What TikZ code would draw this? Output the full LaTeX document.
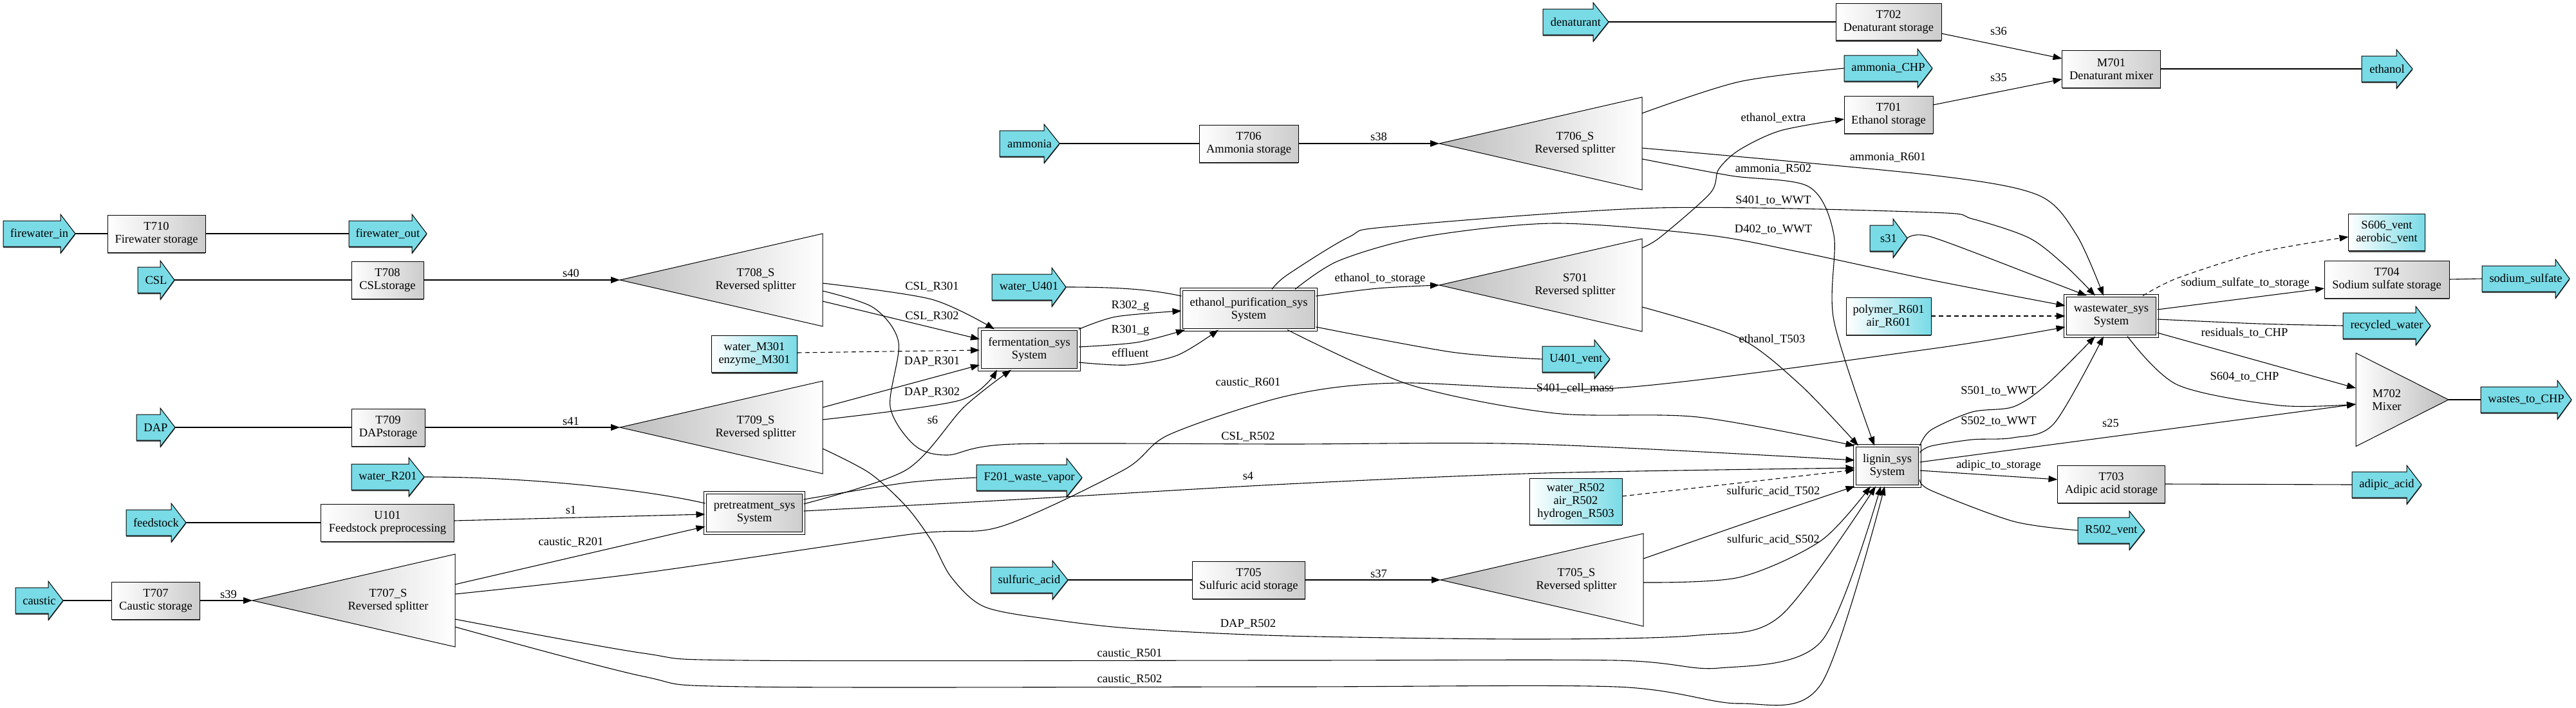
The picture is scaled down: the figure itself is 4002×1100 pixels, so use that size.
\documentclass[tikz,border=0pt]{standalone}
\usepackage{fontspec}
\setmainfont{Liberation Serif}
\usetikzlibrary{arrows.meta,shadows}
\definecolor{cyanC}{RGB}{121,219,230}
\definecolor{boxR}{RGB}{204,204,204}
\definecolor{triL}{RGB}{188,188,188}
\definecolor{shadowC}{RGB}{80,80,80}
\newcommand\streamnode[6]{%
  \fill[shadowC] (#2,#5-20+2) -- (#3,#5-20+2) -- (#3,#5-30+2) -- (#4,#5+2) -- (#3,#5+30+2) -- (#3,#5+20+2) -- (#2,#5+20+2) -- cycle;
  \filldraw[fill=cyanC, line width=1.0pt] (#2,#5-20) -- (#3,#5-20) -- (#3,#5-30) -- (#4,#5) -- (#3,#5+30) -- (#3,#5+20) -- (#2,#5+20) -- cycle;
  \node[txt, minimum width={#4-#2}, minimum height=40] (#1) at ({(#2+#4)/2},#5) {#6};}
\newcommand\splitnode[4]{%
  \node[txt, minimum width=315, minimum height=144, anchor=west] (#1) at (#2,#3) {};
  \shadedraw[left color=triL, right color=white, line width=1.0pt] (#1.west) -- (#1.north east) -- (#1.south east) -- cycle;
  \node[txt] (#1t) at (#2+211,#3) {#4};}
\begin{document}
\begin{tikzpicture}[x=1pt, y=-1pt,
  txt/.style={font=\fontsize{18.5}{20}\selectfont, inner sep=0pt, outer sep=0pt, align=center},
  boxshadow/.style={drop shadow={shadow xshift=0pt, shadow yshift=-2pt, fill=shadowC, opacity=1}},
  unitbox/.style={txt, draw, line width=1.0pt, left color=white, right color=boxR, minimum height=58, boxshadow},
  sysbox/.style={txt, draw, line width=1.0pt, double, double distance=3.4pt, left color=white, right color=boxR, minimum height=63},
  hintbox/.style={txt, draw, line width=1.0pt, left color=white, right color=cyanC, boxshadow},
  lbl/.style={txt},
  pline/.style={line width=1.1pt},
  fline/.style={line width=1.1pt, -{Triangle[length=14pt,width=10pt]}},
  dline/.style={fline, dash pattern=on 7pt off 5pt}]
\path[use as bounding box, fill=white] (0,0) rectangle (4002,1100);

% ---------- stream arrows ----------
\streamnode{fwin}{5}{94}{117}{363}{firewater\_in}
\streamnode{fwout}{542}{640}{663}{363}{firewater\_out}
\streamnode{CSL}{214}{249}{271}{435}{CSL}
\streamnode{DAP}{212}{249}{272}{664}{DAP}
\streamnode{wR201}{546}{635}{659}{741}{water\_R201}
\streamnode{feed}{196}{266}{289}{812}{feedstock}
\streamnode{caustic}{24}{75}{98}{933}{caustic}
\streamnode{ammonia}{1553}{1622}{1646}{223}{ammonia}
\streamnode{denat}{2397}{2475}{2499}{34}{denaturant}
\streamnode{amCHP}{2865}{2979}{3002}{106}{ammonia\_CHP}
\streamnode{ethanol}{3669}{3723}{3748}{107}{ethanol}
\streamnode{wU401}{1541}{1634}{1656}{446}{water\_U401}
\streamnode{F201}{1517}{1657}{1681}{742}{F201\_waste\_vapor}
\streamnode{U401v}{2396}{2477}{2501}{558}{U401\_vent}
\streamnode{sulf}{1539}{1635}{1659}{901}{sulfuric\_acid}
\streamnode{s31}{2905}{2941}{2963}{370}{s31}
\streamnode{naso}{3856}{3970}{3992}{433}{sodium\_sulfate}
\streamnode{recw}{3640}{3753}{3776}{506}{recycled\_water}
\streamnode{wCHP}{3854}{3973}{3995}{621}{wastes\_to\_CHP}
\streamnode{adip}{3654}{3739}{3762}{753}{adipic\_acid}
\streamnode{R502v}{3228}{3308}{3332}{824}{R502\_vent}

% ---------- unit boxes ----------
\node[unitbox, minimum width=152] (T710) at (243,363) {T710\\Firewater storage};
\node[unitbox, minimum width=112] (T708) at (602,435) {T708\\CSLstorage};
\node[unitbox, minimum width=114] (T709) at (603,664) {T709\\DAPstorage};
\node[unitbox, minimum width=207] (U101) at (602,812) {U101\\Feedstock preprocessing};
\node[unitbox, minimum width=137] (T707) at (242,933) {T707\\Caustic storage};
\node[unitbox, minimum width=154] (T706) at (1940,223) {T706\\Ammonia storage};
\node[unitbox, minimum width=175] (T705) at (1940,901) {T705\\Sulfuric acid storage};
\node[unitbox, minimum width=164, minimum height=57] (T702) at (2934,34) {T702\\Denaturant storage};
\node[unitbox, minimum width=138] (T701) at (2934,178) {T701\\Ethanol storage};
\node[unitbox, minimum width=153] (M701) at (3280,107) {M701\\Denaturant mixer};
\node[unitbox, minimum width=194] (T704) at (3708,434) {T704\\Sodium sulfate storage};
\node[unitbox, minimum width=167] (T703) at (3280,752) {T703\\Adipic acid storage};

% ---------- systems ----------
\node[sysbox, minimum width=153] (pretreat) at (1172,797) {pretreatment\_sys\\System};
\node[sysbox, minimum width=154] (ferm) at (1599,543) {fermentation\_sys\\System};
\node[sysbox, minimum width=209] (ethpur) at (1940,481) {ethanol\_purification\_sys\\System};
\node[sysbox, minimum width=101] (lignin) at (2932,724) {lignin\_sys\\System};
\node[sysbox, minimum width=143] (wwt) at (3280,491) {wastewater\_sys\\System};

% ---------- auxiliary feed boxes ----------
\node[hintbox, minimum width=133, minimum height=57] (wM301) at (1172,550) {water\_M301\\enzyme\_M301};
\node[hintbox, minimum width=132, minimum height=58] (polyR601) at (2934,491) {polymer\_R601\\air\_R601};
\node[hintbox, minimum width=144, minimum height=72] (wR502) at (2448,779) {water\_R502\\air\_R502\\hydrogen\_R503};
\node[hintbox, minimum width=119, minimum height=57] (S606) at (3708,361) {S606\_vent\\aerobic\_vent};

% ---------- splitters and mixer ----------
\splitnode{T708S}{963}{435}{T708\_S\\Reversed splitter}
\splitnode{T709S}{963}{664}{T709\_S\\Reversed splitter}
\splitnode{T707S}{392}{933}{T707\_S\\Reversed splitter}
\splitnode{T706S}{2236}{223}{T706\_S\\Reversed splitter}
\splitnode{S701}{2236}{443}{S701\\Reversed splitter}
\splitnode{T705S}{2238}{901}{T705\_S\\Reversed splitter}
\node[txt, minimum width=144, minimum height=145, anchor=west] (M702) at (3660,621) {};
\shadedraw[left color=white, right color=triL, line width=1.0pt] (M702.north west) -- (M702.east) -- (M702.south west) -- cycle;
\node[txt] (M702t) at (3708,621) {M702\\Mixer};

% ---------- connectors ----------
\draw[pline] (fwin.east) -- (T710.west);
\draw[pline] (T710.east) -- (fwout.west);
\draw[pline] (CSL.east) -- (T708.west);
\draw[fline] (T708.east) -- (T708S.west);
\draw[pline] (DAP.east) -- (T709.west);
\draw[fline] (T709.east) -- (T709S.west);
\draw[pline] (wR201.east) .. controls (820,741) and (1000,760) .. (pretreat.west |- 0,782);
\draw[pline] (feed.east) -- (U101.west);
\draw[fline] (U101.east |- 0,809) -- (pretreat.west |- 0,799);
\draw[pline] (caustic.east) -- (T707.west);
\draw[fline] (T707.east) -- (T707S.west);
\draw[fline] (T707S.east |- 0,908) -- (pretreat.west |- 0,818);
\draw[fline] plot[smooth] coordinates {(T707S.east |- 0,923) (1000,890) (1415,830) (1555,818) (1746,730) (1817,675) (2000,615) (2172,595) (2510,603) (3000,542) (wwt.west |- 0,508)};
\draw[fline] plot[smooth] coordinates {(T707S.east |- 0,962) (1000,1015) (1160,1026) (2000,1026) (2510,1026) (2670,1038) (2829,997) (lignin.south -| 2922,0)};
\draw[fline] plot[smooth] coordinates {(T707S.east |- 0,974) (1000,1051) (1160,1067) (2000,1067) (2510,1067) (2702,1093) (2829,1063) (lignin.south -| 2928,0)};
\draw[fline] plot[smooth] coordinates {(T708S.east |- 0,440) (1447,465) (ferm.north -| 1545,0)};
\draw[fline] plot[smooth] coordinates {(T708S.east |- 0,452) (1357,478) (1396,532) (1383,632) (1421,692) (1472,707) (1574,690) (2000,690) (2383,690) (lignin.west |- 0,715)};
\draw[fline] (T708S.east |- 0,468) -- (ferm.west |- 0,527);
\draw[dline] (wM301.east |- 0,548) -- (ferm.west |- 0,544);
\draw[fline] (T709S.east |- 0,633) -- (ferm.west |- 0,567);
\draw[fline] plot[smooth] coordinates {(T709S.east |- 0,652) (1491,622) (ferm.south -| 1549,0)};
\draw[fline] plot[smooth] coordinates {(T709S.east |- 0,697) (1351,735) (1408,787) (1447,840) (1478,897) (1530,943) (1638,963) (1766,977) (2000,988) (2383,993) (2638,987) (2766,957) (lignin.south -| 2914,0)};
\draw[pline] plot[smooth] coordinates {(pretreat.east |- 0,776) (1408,750) (F201.west)};
\draw[fline] plot[smooth] coordinates {(pretreat.east |- 0,783) (1408,730) (1498,632) (ferm.south -| 1571,0)};
\draw[fline] plot[smooth] coordinates {(pretreat.east |- 0,794) (1600,775) (2000,752) (2400,735) (lignin.west |- 0,727)};
\draw[fline] plot[smooth] coordinates {(ferm.north east) (1734,492) (ethpur.west |- 0,483)};
\draw[fline] plot[smooth] coordinates {(ferm.east |- 0,539) (1766,532) (ethpur.south -| 1841,0)};
\draw[fline] plot[smooth] coordinates {(ferm.east |- 0,563) (1753,567) (1829,552) (ethpur.south -| 1893,0)};
\draw[pline] (wU401.east) .. controls (1740,446) and (1790,450) .. (ethpur.west |- 0,460);
\draw[fline] plot[smooth] coordinates {(ethpur.east |- 0,460) (2140,448) (S701.west)};
\draw[pline] plot[smooth] coordinates {(ethpur.east |- 0,508) (2255,547) (U401v.west)};
\draw[fline] plot[smooth] coordinates {(ethpur.south -| 2000,0) (2191,598) (2415,642) (2638,648) (lignin.north west)};
\draw[fline] plot[smooth] coordinates {(ethpur.north -| 1976,0) (2000,427) (2096,368) (2160,352) (2574,323) (3000,330) (3064,340) (3153,370) (3211,415) (wwt.north -| 3255,0)};
\draw[fline] plot[smooth] coordinates {(ethpur.north -| 2012,0) (2080,405) (2211,368) (2415,347) (2651,365) (2798,392) (3000,435) (wwt.west |- 0,475)};
\draw[fline] plot[smooth] coordinates {(S701.east |- 0,385) (2580,368) (2657,300) (2670,263) (2702,233) (2766,203) (T701.west |- 0,185)};
\draw[fline] plot[smooth] coordinates {(S701.east |- 0,477) (2702,525) (2797,598) (lignin.north -| 2887,0)};
\draw[pline] (ammonia.east) -- (T706.west);
\draw[fline] (T706.east) -- (T706S.west);
\draw[pline] plot[smooth] coordinates {(T706S.east |- 0,176) (2702,127) (amCHP.west)};
\draw[fline] plot[smooth] coordinates {(T706S.east |- 0,230) (3000,272) (3166,303) (3226,365) (wwt.north -| 3268,0)};
\draw[fline] plot[smooth] coordinates {(T706S.east |- 0,247) (2689,273) (2810,290) (2849,365) (2849,498) (lignin.north -| 2912,0)};
\draw[pline] (denat.east) -- (T702.west);
\draw[fline] (T702.east |- 0,52) -- (M701.west |- 0,91);
\draw[fline] (T701.east |- 0,163) -- (M701.west |- 0,123);
\draw[pline] (M701.east) -- (ethanol.west);
\draw[fline] plot[smooth] coordinates {(s31.east) (3000,368) (3160,428) (wwt.north -| 3242,0)};
\draw[dline] (polyR601.east) -- (wwt.west |- 0,491);
\draw[dline] plot[smooth] coordinates {(wwt.north -| 3329,0) (3383,432) (3510,392) (S606.west |- 0,368)};
\draw[fline] (wwt.east |- 0,481) -- (T704.west |- 0,448);
\draw[pline] (T704.east) -- (naso.west);
\draw[pline] plot[smooth] coordinates {(wwt.east |- 0,496) (3510,503) (recw.west)};
\draw[fline] (wwt.east |- 0,517) -- (M702.west |- 0,603);
\draw[fline] plot[smooth] coordinates {(wwt.south -| 3305,0) (3383,598) (3542,630) (M702.west |- 0,628)};
\draw[pline] (M702.east) -- (wCHP.west);
\draw[fline] (lignin.east |- 0,718) -- (M702.west |- 0,628);
\draw[fline] plot[smooth] coordinates {(lignin.north east) (3000,668) (3064,640) (3128,632) (3179,598) (wwt.south -| 3255,0)};
\draw[fline] plot[smooth] coordinates {(lignin.east |- 0,703) (3000,693) (3064,683) (3128,680) (3191,658) (wwt.south -| 3268,0)};
\draw[fline] (lignin.east |- 0,731) -- (T703.west |- 0,745);
\draw[pline] (T703.east) -- (adip.west);
\draw[pline] plot[smooth] coordinates {(lignin.east |- 0,745) (3000,762) (3128,810) (R502v.west)};
\draw[dline] (wR502.east |- 0,771) -- (lignin.west |- 0,730);
\draw[pline] (sulf.east) -- (T705.west);
\draw[fline] (T705.east) -- (T705S.west);
\draw[fline] plot[smooth] coordinates {(T705S.east |- 0,868) (2720,810) (lignin.south west)};
\draw[fline] plot[smooth] coordinates {(T705S.east |- 0,905) (2702,897) (2829,840) (lignin.south -| 2906,0)};

% ---------- edge labels ----------
\node[lbl] (Ls40) at (887,424) {s40};
\node[lbl] (Ls41) at (887,654) {s41};
\node[lbl] (Ls1) at (887,792) {s1};
\node[lbl] (LcR201) at (887,843) {caustic\_R201};
\node[lbl] (Ls39) at (355,923) {s39};
\node[lbl] (LCSLR301) at (1448,446) {CSL\_R301};
\node[lbl] (LCSLR302) at (1448,492) {CSL\_R302};
\node[lbl] (LDAPR301) at (1448,562) {DAP\_R301};
\node[lbl] (LDAPR302) at (1448,610) {DAP\_R302};
\node[lbl] (Ls6) at (1449,652) {s6};
\node[lbl] (LR302g) at (1756,475) {R302\_g};
\node[lbl] (LR301g) at (1756,513) {R301\_g};
\node[lbl] (Leff) at (1756,548) {effluent};
\node[lbl] (LcR601) at (1939,595) {caustic\_R601};
\node[lbl] (LCSLR502) at (1939,679) {CSL\_R502};
\node[lbl] (Ls4) at (1939,739) {s4};
\node[lbl] (LDAPR502) at (1939,970) {DAP\_R502};
\node[lbl] (LcR501) at (1755,1016) {caustic\_R501};
\node[lbl] (LcR502) at (1755,1056) {caustic\_R502};
\node[lbl] (Ls38) at (2142,212) {s38};
\node[lbl] (Lets) at (2144,433) {ethanol\_to\_storage};
\node[lbl] (Lcell) at (2447,603) {S401\_cell\_mass};
\node[lbl] (Lext) at (2755,183) {ethanol\_extra};
\node[lbl] (LamR502) at (2755,263) {ammonia\_R502};
\node[lbl] (LS401) at (2755,312) {S401\_to\_WWT};
\node[lbl] (LD402) at (2755,357) {D402\_to\_WWT};
\node[lbl] (LeT503) at (2753,527) {ethanol\_T503};
\node[lbl] (LsaT502) at (2755,763) {sulfuric\_acid\_T502};
\node[lbl] (LsaS502) at (2755,838) {sulfuric\_acid\_S502};
\node[lbl] (Ls37) at (2142,891) {s37};
\node[lbl] (LamR601) at (2933,245) {ammonia\_R601};
\node[lbl] (Ls36) at (3105,48) {s36};
\node[lbl] (Ls35) at (3105,120) {s35};
\node[lbl] (LS501) at (3105,608) {S501\_to\_WWT};
\node[lbl] (LS502) at (3105,655) {S502\_to\_WWT};
\node[lbl] (Ladip) at (3105,723) {adipic\_to\_storage};
\node[lbl] (Ls25) at (3279,657) {s25};
\node[lbl] (Lnaso) at (3488,440) {sodium\_sulfate\_to\_storage};
\node[lbl] (Lres) at (3487,517) {residuals\_to\_CHP};
\node[lbl] (LS604) at (3487,586) {S604\_to\_CHP};
\end{tikzpicture}
\end{document}
